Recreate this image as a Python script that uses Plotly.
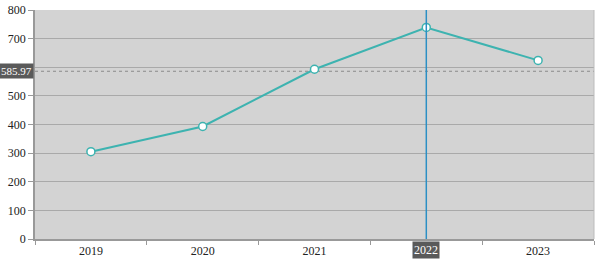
import plotly.graph_objects as go

years = ["2019", "2020", "2021", "2022", "2023"]
values = [305, 393, 593, 739, 624]
ref_value = 585.97
highlight_year = "2022"
y_ticks = [0, 100, 200, 300, 400, 500, 700, 800]  # 600 is covered by the reference label

FONT = "Liberation Serif, Times New Roman, serif"
hi_idx = years.index(highlight_year)

fig = go.Figure()
fig.add_trace(go.Scatter(
    x=years, y=values, mode="lines+markers",
    line=dict(color="#3db3b0", width=2),
    marker=dict(size=8, color="white", line=dict(color="#3db3b0", width=1.5)),
    showlegend=False, cliponaxis=False, hoverinfo="skip",
))

fig.add_shape(type="line", xref="paper", x0=0, x1=1, yref="y", y0=ref_value, y1=ref_value,
              line=dict(color="#8a8a8a", width=1.2, dash="dot"), layer="below")
fig.add_shape(type="line", xref="paper", x0=1, x1=1, yref="paper", y0=0, y1=1,
              line=dict(color="#bbbbbb", width=1))
fig.add_shape(type="line", xref="x", x0=hi_idx, x1=hi_idx, yref="paper", y0=0, y1=1,
              line=dict(color="#2b8fc4", width=1.5))

fig.add_annotation(x=0, xref="paper", xanchor="right", y=ref_value, yref="y", yanchor="middle",
                   text=f"{ref_value:.2f}", showarrow=False, bgcolor="#5a5a5a",
                   font=dict(color="white", size=11, family=FONT),
                   borderpad=1, xshift=-1)
fig.add_annotation(x=hi_idx, xref="x", y=0, yref="paper", yanchor="top", xanchor="center",
                   text=highlight_year, showarrow=False, bgcolor="#5a5a5a",
                   font=dict(color="white", size=12, family=FONT),
                   borderpad=1, yshift=-2)

fig.update_layout(
    width=597, height=261,
    margin=dict(l=35, r=3, t=6, b=17),
    paper_bgcolor="white", plot_bgcolor="#d3d3d3",
    font=dict(family=FONT, size=12, color="#222222"),
    xaxis=dict(type="category", tickson="boundaries", ticks="outside", ticklen=4,
               tickcolor="#999999", showgrid=False, showline=True, linecolor="#999999",
               linewidth=1.5, range=[-0.5, 4.5], fixedrange=True, ticklabeloverflow="allow"),
    yaxis=dict(range=[0, 800], tickmode="array", tickvals=y_ticks,
               ticktext=[str(v) for v in y_ticks], ticks="outside", ticklen=5,
               tickcolor="#999999", showgrid=False,
               minor=dict(dtick=100, showgrid=True, gridcolor="#a9a9a9", gridwidth=1,
                          ticks="outside", ticklen=5, tickcolor="#999999"),
               showline=True, linecolor="#999999", linewidth=1.5, zeroline=False,
               fixedrange=True, ticklabeloverflow="allow"),
)

fig.write_html("out.html", config={"displayModeBar": False},
               post_script="document.body.style.margin='0';")
